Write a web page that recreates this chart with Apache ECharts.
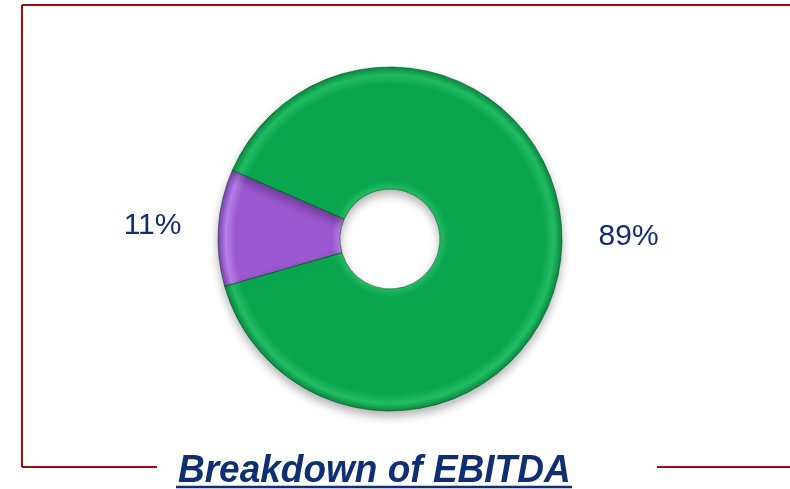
<!DOCTYPE html>
<html>
<head>
<meta charset="utf-8">
<title>Breakdown of EBITDA</title>
<script src="https://cdn.jsdelivr.net/npm/echarts@6/dist/echarts.min.js"></script>
<style>
  html, body { margin: 0; padding: 0; background: #ffffff; }
  #chart { width: 790px; height: 489px; }
</style>
</head>
<body>
<div id="chart"></div>
<script>
// EBITDA split, in percent
const segments = ['Segment A', 'Segment B'];
const shares = [11, 89];
const segmentColors = ['#9a57cf', '#0aa64f'];
const rimColors = ['#b77ee6', '#22bd63'];
const edgeColors = ['#7c3fb0', '#078a40'];
const chartTitle = 'Breakdown of EBITDA';

const CX = 390, CY = 239, R_IN = 50, R_OUT = 172;
const frameColor = '#a40b0b';
const navy = '#0f2f72';

function bevel(i) {
  const a = R_IN / R_OUT;
  return new echarts.graphic.RadialGradient(CX, CY, R_OUT, [
    { offset: a, color: rimColors[i] },
    { offset: a + 0.05, color: segmentColors[i] },
    { offset: 0.9, color: segmentColors[i] },
    { offset: 0.955, color: rimColors[i] },
    { offset: 1, color: edgeColors[i] }
  ], true);
}

const chart = echarts.init(document.getElementById('chart'), null, { renderer: 'canvas' });

chart.setOption({
  animation: false,
  backgroundColor: '#ffffff',
  series: [{
    type: 'pie',
    center: [CX, CY],
    radius: [R_IN, R_OUT],
    startAngle: 196,
    clockwise: true,
    avoidLabelOverlap: false,
    data: segments.map((name, i) => ({
      name: name,
      value: shares[i],
      itemStyle: { color: bevel(i) }
    })),
    itemStyle: {
      borderColor: 'rgba(0,70,30,0.55)',
      borderWidth: 1,
      shadowColor: 'rgba(0,0,0,0.3)',
      shadowBlur: 10,
      shadowOffsetY: 5
    },
    label: {
      show: true,
      position: 'outside',
      formatter: p => p.value + '%',
      fontFamily: 'Liberation Sans, Arial, sans-serif',
      fontSize: 30,
      color: navy,
      distanceToLabelLine: 5
    },
    labelLine: { show: false, length: 32, length2: 0 },
    labelLayout: p => (p.dataIndex === 1 ? { dy: -16 } : {}),
    emphasis: { disabled: true }
  }],
  graphic: [
    // frame
    { type: 'line', shape: { x1: 22, y1: 5, x2: 790, y2: 5 }, style: { stroke: frameColor, lineWidth: 2 } },
    { type: 'line', shape: { x1: 22, y1: 5, x2: 22, y2: 467 }, style: { stroke: frameColor, lineWidth: 2 } },
    { type: 'line', shape: { x1: 22, y1: 467, x2: 157, y2: 467 }, style: { stroke: frameColor, lineWidth: 2 } },
    { type: 'line', shape: { x1: 657, y1: 467, x2: 790, y2: 467 }, style: { stroke: frameColor, lineWidth: 2 } },
    // title with underline
    {
      type: 'text',
      left: 178,
      top: 452,
      scaleY: 1.06,
      style: {
        text: chartTitle,
        font: 'italic bold 37px "Liberation Sans", Arial, sans-serif',
        fill: navy
      }
    },
    { type: 'line', shape: { x1: 176, y1: 487, x2: 572, y2: 487 }, style: { stroke: navy, lineWidth: 2.5 } }
  ]
});
</script>
</body>
</html>
